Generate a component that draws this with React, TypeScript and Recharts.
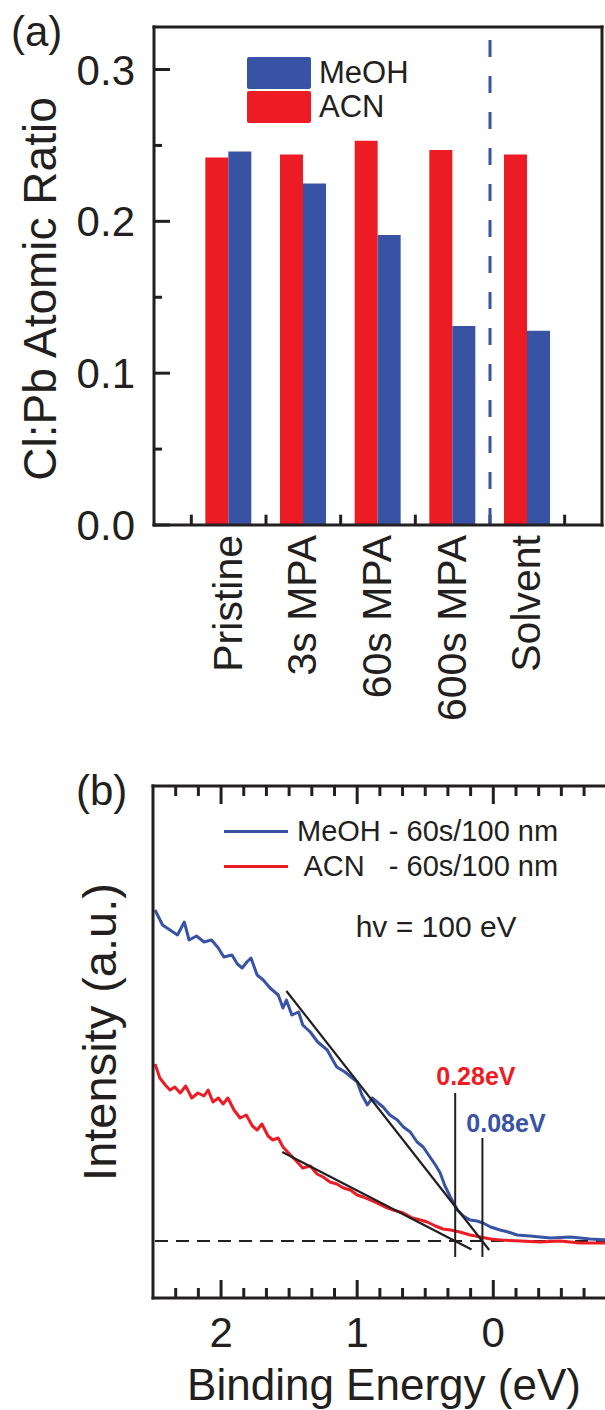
import React from 'react';
import {
  BarChart, Bar, LineChart, Line, XAxis, YAxis, ReferenceLine, ReferenceDot, Legend, Label,
} from 'recharts';

const FONT = '"Liberation Sans", Arial, Helvetica, sans-serif';
const INK = '#231F20';
const RED = '#ED1C24';
const BLUE = '#3953A4';
const FRAME = { stroke: INK, strokeWidth: 3, strokeLinecap: 'square' as const };

// ---- (a) Cl:Pb atomic ratio ----
const categories = ['Pristine', '3s MPA', '60s MPA', '600s MPA', 'Solvent'];
const categoryPos = [1, 2, 3, 4, 5];
const acnRatio = [0.242, 0.244, 0.253, 0.247, 0.244];
const meohRatio = [0.246, 0.225, 0.191, 0.131, 0.128];
const groupEdges = [0.5, 1.5, 2.5, 3.5, 4.5, 5.5];
const ratioMajor = [0, 0.1, 0.2, 0.3];
const ratioMinor = [0.05, 0.15, 0.25];
const ratioDomain = [0, 0.328];
const slotDomain = [0, 6];
const solventDivider = 4.5;

// ---- (b) valence band edge, hv = 100 eV ----
const meohEnergy = [2.485, 2.43, 2.375, 2.32, 2.27, 2.235, 2.18, 2.125, 2.07, 2.02, 1.98, 1.92, 1.88, 1.845, 1.81, 1.78, 1.735, 1.69, 1.64, 1.58, 1.545, 1.52, 1.48, 1.43, 1.4, 1.345, 1.29, 1.22, 1.18, 1.15, 1.09, 1.035, 1.0, 0.965, 0.925, 0.89, 0.845, 0.81, 0.76, 0.705, 0.66, 0.61, 0.56, 0.515, 0.465, 0.425, 0.39, 0.355, 0.315, 0.265, 0.22, 0.17, 0.12, 0.075, 0.02, -0.05, -0.11, -0.175, -0.27, -0.42, -0.565, -0.71, -0.85];
const meohIntensity = [3.31, 3.16, 3.11, 3.06, 3.19, 3.01, 3.05, 2.99, 3.01, 2.93, 2.84, 2.86, 2.77, 2.73, 2.79, 2.83, 2.66, 2.61, 2.53, 2.46, 2.33, 2.41, 2.26, 2.29, 2.16, 2.09, 1.99, 1.91, 1.81, 1.74, 1.69, 1.63, 1.59, 1.46, 1.36, 1.43, 1.38, 1.34, 1.26, 1.21, 1.14, 1.09, 0.99, 0.94, 0.84, 0.76, 0.68, 0.55, 0.44, 0.31, 0.25, 0.21, 0.2, 0.18, 0.14, 0.11, 0.09, 0.06, 0.05, 0.03, 0.04, 0.02, 0.01];
const acnEnergy = [2.485, 2.45, 2.41, 2.375, 2.34, 2.3, 2.26, 2.215, 2.17, 2.125, 2.095, 2.06, 2.02, 1.985, 1.95, 1.905, 1.86, 1.815, 1.77, 1.735, 1.7, 1.655, 1.62, 1.58, 1.545, 1.49, 1.44, 1.4, 1.345, 1.295, 1.25, 1.2, 1.15, 1.1, 1.05, 1.0, 0.955, 0.905, 0.855, 0.795, 0.735, 0.66, 0.595, 0.535, 0.485, 0.425, 0.37, 0.315, 0.245, 0.17, 0.095, 0.02, -0.05, -0.2, -0.345, -0.49, -0.64, -0.85];
const acnIntensity = [1.77, 1.63, 1.56, 1.51, 1.54, 1.48, 1.55, 1.43, 1.48, 1.45, 1.51, 1.39, 1.43, 1.37, 1.43, 1.31, 1.23, 1.26, 1.15, 1.11, 1.17, 1.05, 1.01, 1.03, 0.94, 0.86, 0.79, 0.73, 0.75, 0.67, 0.64, 0.59, 0.57, 0.53, 0.51, 0.46, 0.44, 0.41, 0.38, 0.34, 0.31, 0.28, 0.23, 0.21, 0.19, 0.15, 0.12, 0.11, 0.09, 0.06, 0.04, 0.02, 0.01, 0.0, -0.01, 0.0, -0.02, -0.02];
const meohFitEnergy = [1.52, 0.03];
const meohFitIntensity = [2.5, -0.09];
const acnFitEnergy = [1.55, 0.16];
const acnFitIntensity = [0.89, -0.085];
const energyDomain = [-0.85, 2.5];
const intensityDomain = [-0.57, 4.55];
const onsetEnergy = [0.28, 0.08];
const onsetTop = [1.48, 1.03];
const onsetBottom = -0.16;
const energyMajor = [0, 1, 2];
const energyMinor = [2.3333, 2.1667, 1.8333, 1.6667, 1.5, 1.3333, 1.1667, 0.8333, 0.6667, 0.5, 0.3333, 0.1667, -0.1667, -0.3333, -0.5, -0.6667];
const meohName = 'MeOH - 60s/100 nm';
const acnName = ' ACN   - 60s/100 nm';

// tick lengths, in axis units (about 16/8/10 px in (a), 18/10 px in (b))
const ratioMajorLen = 0.214;
const ratioMinorLen = 0.107;
const edgeLen = 0.0068;
const energyMajorLen = 0.18;
const energyMinorLen = 0.1;

const barData = categories.map((name, k) => ({ pos: categoryPos[k], name, acn: acnRatio[k], meoh: meohRatio[k] }));
const toPoints = (es: number[], is: number[]) => es.map((e, k) => ({ e, i: is[k] }));
const meohData = toPoints(meohEnergy, meohIntensity);
const acnData = toPoints(acnEnergy, acnIntensity);
const meohFit = toPoints(meohFitEnergy, meohFitIntensity);
const acnFit = toPoints(acnFitEnergy, acnFitIntensity);
const baseline = energyDomain.map((e) => ({ e, i: 0 }));

const RatioYLabel = ({ x, y, payload }: any) => (
  <text x={x - 19} y={y + 15} textAnchor="end" fontSize={42} fill={INK} fontFamily={FONT}>
    {payload.value.toFixed(1)}
  </text>
);

const CategoryLabel = ({ x, y, payload }: any) => {
  const tx = x + 13;
  const ty = y + 10;
  return (
    <text x={tx} y={ty} transform={`rotate(-90 ${tx} ${ty})`} textAnchor="end" fontSize={41} fill={INK} fontFamily={FONT}>
      {categories[categoryPos.indexOf(payload.value)]}
    </text>
  );
};

const EnergyLabel = ({ x, y, payload }: any) => (
  <text x={x} y={y + 49} textAnchor="middle" fontSize={42} fill={INK} fontFamily={FONT}>
    {payload.value}
  </text>
);

const RatioLegend = ({ payload }: any) => {
  const items = ['MeOH', 'ACN'].map((n) => (payload || []).find((p: any) => p.value === n)).filter(Boolean);
  return (
    <div style={{ fontFamily: FONT, fontSize: 31, color: INK }}>
      {items.map((p: any) => (
        <div key={p.value} style={{ display: 'flex', alignItems: 'center', height: 34 }}>
          <span style={{ display: 'inline-block', width: 64, height: 32, background: p.color, borderRadius: 2 }} />
          <span style={{ marginLeft: 8 }}>{p.value}</span>
        </div>
      ))}
    </div>
  );
};

const SpectrumLegend = ({ payload }: any) => {
  const items = [meohName, acnName].map((n) => (payload || []).find((p: any) => p.value === n)).filter(Boolean);
  return (
    <div style={{ fontFamily: FONT, fontSize: 29, color: INK }}>
      {items.map((p: any) => (
        <div key={p.value} style={{ display: 'flex', alignItems: 'center', height: 35, whiteSpace: 'pre' }}>
          <span style={{ display: 'inline-block', width: 64, height: 3, background: p.color }} />
          <span style={{ marginLeft: 9 }}>{p.value}</span>
        </div>
      ))}
    </div>
  );
};

function RatioPanel() {
  const ids = { xAxisId: 'frame', yAxisId: 'r', stroke: INK, strokeWidth: 3, ifOverflow: 'visible' as const };
  return (
    <BarChart width={605} height={740} data={barData} margin={{ top: 27, right: 3, bottom: 0, left: 0 }} barGap={0} barSize={23}>
      <XAxis
        xAxisId="frame" dataKey="pos" type="number" domain={slotDomain} allowDataOverflow ticks={categoryPos}
        interval={0} height={215} axisLine={FRAME} tickLine={false} tickSize={0} tickMargin={0} tick={<CategoryLabel />}
      />
      <XAxis
        xAxisId="top" orientation="top" mirror height={1} dataKey="pos" type="number" domain={slotDomain}
        ticks={slotDomain} tick={false} tickLine={false} axisLine={FRAME}
      />
      <YAxis
        yAxisId="r" type="number" domain={ratioDomain} allowDataOverflow ticks={ratioMajor}
        interval={0} width={154} axisLine={FRAME} tickLine={false} tickSize={0} tickMargin={0} tick={<RatioYLabel />}
      >
        <Label
          content={() => (
            <text x={56} y={289} transform="rotate(-90 56 289)" textAnchor="middle" fontSize={46} fill={INK} fontFamily={FONT}>
              Cl:Pb Atomic Ratio
            </text>
          )}
        />
      </YAxis>
      <YAxis
        yAxisId="right" orientation="right" mirror width={1} type="number" domain={ratioDomain} allowDataOverflow
        ticks={ratioDomain} tick={false} tickLine={false} axisLine={FRAME}
      />
      {ratioMajor.map((v) => (
        <ReferenceLine key={`ma-${v}`} {...ids} segment={[{ x: slotDomain[0], y: v }, { x: slotDomain[0] + ratioMajorLen, y: v }]} />
      ))}
      {ratioMinor.map((v) => (
        <ReferenceLine key={`mi-${v}`} {...ids} segment={[{ x: slotDomain[0], y: v }, { x: slotDomain[0] + ratioMinorLen, y: v }]} />
      ))}
      {groupEdges.map((p) => (
        <ReferenceLine key={`ed-${p}`} {...ids} segment={[{ x: p, y: ratioDomain[0] }, { x: p, y: ratioDomain[0] + edgeLen }]} />
      ))}
      <ReferenceLine xAxisId="frame" yAxisId="r" x={solventDivider} stroke={BLUE} strokeWidth={3} strokeDasharray="17 19" />
      <Bar xAxisId="frame" yAxisId="r" dataKey="acn" name="ACN" fill={RED} isAnimationActive={false} />
      <Bar xAxisId="frame" yAxisId="r" dataKey="meoh" name="MeOH" fill={BLUE} isAnimationActive={false} />
      <Legend layout="vertical" align="center" verticalAlign="middle" wrapperStyle={{ left: 247, top: 56, width: 'auto' }} content={<RatioLegend />} />
    </BarChart>
  );
}

function SpectrumPanel() {
  const xCommon = { dataKey: 'e', type: 'number' as const, domain: energyDomain, allowDataOverflow: true, reversed: true, interval: 0 as const };
  const ids = { xAxisId: 'e', yAxisId: 'i', stroke: INK, strokeWidth: 3, ifOverflow: 'visible' as const };
  const [iMin, iMax] = intensityDomain;
  const energyTicks = [...energyMajor.map((e) => ({ e, len: energyMajorLen })), ...energyMinor.map((e) => ({ e, len: energyMinorLen }))];
  return (
    <LineChart width={612} height={670} margin={{ top: 46, right: 3, bottom: 0, left: 0 }}>
      <XAxis
        xAxisId="e" {...xCommon} ticks={energyMajor} height={112} axisLine={FRAME} tickLine={false}
        tickSize={0} tickMargin={0} tick={<EnergyLabel />}
      >
        <Label
          content={() => (
            <text x={384} y={660} textAnchor="middle" fontSize={44} fill={INK} fontFamily={FONT}>
              Binding Energy (eV)
            </text>
          )}
        />
      </XAxis>
      <XAxis xAxisId="top" {...xCommon} orientation="top" mirror height={1} ticks={energyMajor} tick={false} tickLine={false} axisLine={FRAME} />
      <YAxis yAxisId="i" type="number" domain={intensityDomain} allowDataOverflow width={153} ticks={intensityDomain} tick={false} tickLine={false} axisLine={FRAME}>
        <Label
          content={() => (
            <text x={116} y={292} transform="rotate(-90 116 292)" textAnchor="middle" fontSize={47} fill={INK} fontFamily={FONT}>
              Intensity (a.u.)
            </text>
          )}
        />
      </YAxis>
      {energyTicks.map(({ e, len }) => (
        <ReferenceLine key={`b-${e}`} {...ids} segment={[{ x: e, y: iMin }, { x: e, y: iMin + len }]} />
      ))}
      {energyTicks.map(({ e, len }) => (
        <ReferenceLine key={`t-${e}`} {...ids} segment={[{ x: e, y: iMax }, { x: e, y: iMax - len }]} />
      ))}
      <Line xAxisId="e" yAxisId="i" data={baseline} dataKey="i" stroke={INK} strokeWidth={2} strokeDasharray="13 8" dot={false} legendType="none" isAnimationActive={false} />
      <Line xAxisId="e" yAxisId="i" data={meohData} dataKey="i" name={meohName} stroke={BLUE} strokeWidth={3} strokeLinejoin="round" dot={false} isAnimationActive={false} />
      <Line xAxisId="e" yAxisId="i" data={acnData} dataKey="i" name={acnName} stroke={RED} strokeWidth={3} strokeLinejoin="round" dot={false} isAnimationActive={false} />
      <Line xAxisId="e" yAxisId="i" data={meohFit} dataKey="i" stroke={INK} strokeWidth={2.2} dot={false} legendType="none" isAnimationActive={false} />
      <Line xAxisId="e" yAxisId="i" data={acnFit} dataKey="i" stroke={INK} strokeWidth={2.2} dot={false} legendType="none" isAnimationActive={false} />
      {onsetEnergy.map((e, k) => (
        <Line
          key={`onset-${e}`} xAxisId="e" yAxisId="i" data={[{ e, i: onsetBottom }, { e, i: onsetTop[k] }]} dataKey="i"
          stroke={INK} strokeWidth={2} dot={false} legendType="none" isAnimationActive={false}
        />
      ))}
      <ReferenceDot
        xAxisId="e" yAxisId="i" x={0.42} y={3.15} r={0} fill="none" stroke="none"
        label={{ value: 'hv = 100 eV', position: 'center', fill: INK, fontSize: 30, fontFamily: FONT }}
      />
      <ReferenceDot
        xAxisId="e" yAxisId="i" x={0.128} y={1.65} r={0} fill="none" stroke="none"
        label={{ value: `${onsetEnergy[0].toFixed(2)}eV`, position: 'center', fill: RED, fontSize: 25, fontWeight: 700, fontFamily: FONT }}
      />
      <ReferenceDot
        xAxisId="e" yAxisId="i" x={-0.093} y={1.18} r={0} fill="none" stroke="none"
        label={{ value: `${onsetEnergy[1].toFixed(2)}eV`, position: 'center', fill: BLUE, fontSize: 25, fontWeight: 700, fontFamily: FONT }}
      />
      <Legend layout="vertical" align="center" verticalAlign="middle" wrapperStyle={{ left: 224, top: 74, width: 'auto' }} content={<SpectrumLegend />} />
    </LineChart>
  );
}

export default function App() {
  return (
    <div style={{ position: 'absolute', left: 0, top: 0, width: 605, height: 1410, overflow: 'hidden', background: '#fff', fontFamily: FONT }}>
      <div style={{ position: 'absolute', left: 0, top: 0 }}>
        <RatioPanel />
      </div>
      <div style={{ position: 'absolute', left: 0, top: 740 }}>
        <SpectrumPanel />
      </div>
      <div style={{ position: 'absolute', left: 11, top: 11, fontSize: 42, lineHeight: '42px', color: INK }}>(a)</div>
      <div style={{ position: 'absolute', left: 76, top: 770, fontSize: 42, lineHeight: '42px', color: INK }}>(b)</div>
    </div>
  );
}
